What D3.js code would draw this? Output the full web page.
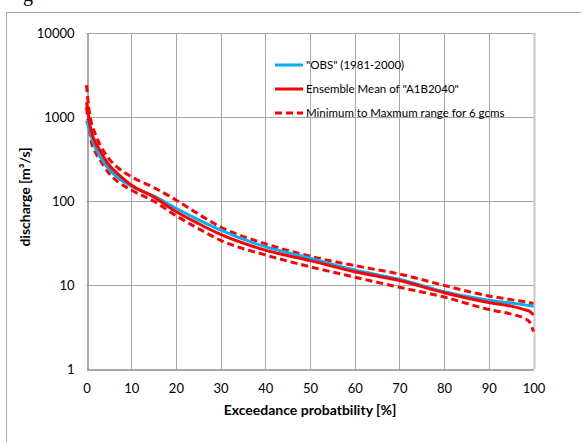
<!DOCTYPE html>
<html>
<head>
<meta charset="utf-8">
<script src="https://cdn.jsdelivr.net/npm/d3@7"></script>
<style>
  html, body { margin: 0; padding: 0; background: #fff; }
  svg { display: block; }
  text { font-family: Lato, "Open Sans", sans-serif; }
</style>
</head>
<body>
<svg id="chart" width="581" height="442"></svg>
<script>
// ---- data ----
const exceedance = [0, 0.5, 1, 2, 3, 5, 7, 10, 15, 20, 25, 30, 40, 50, 60, 70, 80, 90, 95, 98, 99, 100];
const obs   = [900, 750, 600, 430, 340, 240, 190, 150, 115, 82, 60, 45, 28.6, 20.8, 15.1, 11.7, 8.3, 6.6, 6.1, 5.8, 5.7, 5.6];
const ensMean = [1500, 1000, 700, 500, 400, 270, 210, 155, 112, 75, 54, 40, 26, 19.5, 14.4, 11.3, 8.1, 6.2, 5.6, 5.1, 4.9, 4.4];
const ensMax  = [2400, 1300, 900, 620, 470, 320, 250, 195, 145, 103, 70, 49, 31, 22, 17, 13.5, 9.9, 7.4, 6.7, 6.3, 6.2, 6.0];
const ensMin  = [1300, 800, 530, 380, 310, 215, 170, 135, 100, 67, 47, 34, 22.8, 16.5, 12.4, 9.4, 7.2, 5.1, 4.5, 4.0, 3.7, 2.8];
const xTicks = [0, 10, 20, 30, 40, 50, 60, 70, 80, 90, 100];
const yTicks = [1, 10, 100, 1000, 10000];
const legendLabels = ['"OBS" (1981-2000)', 'Ensemble Mean of "A1B2040"', 'Minimum to Maxmum range for 6 gcms'];

const svg = d3.select("#chart");

// outer chart border
svg.append("rect").attr("x", 6.5).attr("y", 12.5).attr("width", 600).attr("height", 460)
  .attr("fill", "none").attr("stroke", "#a6a6a6").attr("stroke-width", 1);

// cut-off caption fragment (as in the reference)
svg.append("text").attr("x", 23).attr("y", 0.5)
  .attr("font-size", 20).attr("fill", "#000").style("font-family", "Liberation Serif, serif").text("g");

const x = d3.scaleLinear().domain([0, 100]).range([86.5, 533.5]);
const y = d3.scaleLog().domain([1, 10000]).range([369, 33]);

// gridlines
const g = svg.append("g");
g.selectAll("line.vg").data(xTicks.slice(1)).join("line")
  .attr("x1", d => Math.round(x(d)) + 0.5).attr("x2", d => Math.round(x(d)) + 0.5)
  .attr("y1", y(10000)).attr("y2", y(1))
  .attr("stroke", d => d === 100 ? "#c8c8c8" : "#a6a6a6").attr("stroke-width", d => d === 100 ? 2 : 1);
g.selectAll("line.hg").data(yTicks.slice(1)).join("line")
  .attr("x1", x(0)).attr("x2", x(100))
  .attr("y1", d => Math.round(y(d)) + 0.5).attr("y2", d => Math.round(y(d)) + 0.5)
  .attr("stroke", "#a6a6a6").attr("stroke-width", 1);

// axes
const xAxis = svg.append("g").attr("transform", `translate(0,${Math.round(y(1)) + 0.5})`)
  .call(d3.axisBottom(x).tickValues(xTicks).tickSize(0).tickPadding(14).tickFormat(d3.format("d")));
xAxis.select(".domain").attr("stroke", "#8c8c8c").attr("stroke-width", 1.5);
xAxis.selectAll("text").attr("font-size", 13).attr("fill", "#000").style("font-family", "Lato, sans-serif");

const yAxis = svg.append("g").attr("transform", `translate(${Math.round(x(0)) + 0.5},0)`)
  .call(d3.axisLeft(y).tickValues(yTicks).tickSize(0).tickPadding(13).tickFormat(d3.format("d")));
yAxis.select(".domain").attr("stroke", "#8c8c8c").attr("stroke-width", 1.5);
yAxis.selectAll("text").attr("font-size", 13).attr("fill", "#000").style("font-family", "Lato, sans-serif");

// axis titles
svg.append("text").attr("x", 310).attr("y", 415).attr("text-anchor", "middle")
  .attr("font-size", 14).attr("font-weight", "bold").text("Exceedance probatbility [%]");
svg.append("text").attr("transform", "translate(30,197) rotate(-90)").attr("text-anchor", "middle")
  .attr("font-size", 14).attr("font-weight", "bold").text("discharge [m³/s]");

// lines
const lineGen = vals => d3.line().curve(d3.curveMonotoneX)
  .x((d, i) => x(exceedance[i])).y(d => y(d))(vals);

const series = [
  { vals: ensMax, color: "#ff0000", dash: "7,4" },
  { vals: ensMin, color: "#ff0000", dash: "7,4" },
  { vals: obs, color: "#00b0f0", dash: null },
  { vals: ensMean, color: "#ff0000", dash: null }
];
svg.append("g").selectAll("path").data(series).join("path")
  .attr("d", d => lineGen(d.vals))
  .attr("fill", "none").attr("stroke", d => d.color).attr("stroke-width", 3)
  .attr("stroke-dasharray", d => d.dash);

// legend
const legendStyles = [
  { color: "#00b0f0", dash: null },
  { color: "#ff0000", dash: null },
  { color: "#ff0000", dash: "7,4" }
];
const leg = svg.append("g");
legendLabels.forEach((lab, i) => {
  const ly = 65 + i * 24;
  leg.append("line").attr("x1", 275).attr("x2", 303).attr("y1", ly).attr("y2", ly)
    .attr("stroke", legendStyles[i].color).attr("stroke-width", 3)
    .attr("stroke-dasharray", legendStyles[i].dash);
  leg.append("text").attr("x", 306).attr("y", ly + 4).attr("font-size", 11.5).attr("fill", "#000").text(lab);
});
</script>
</body>
</html>
